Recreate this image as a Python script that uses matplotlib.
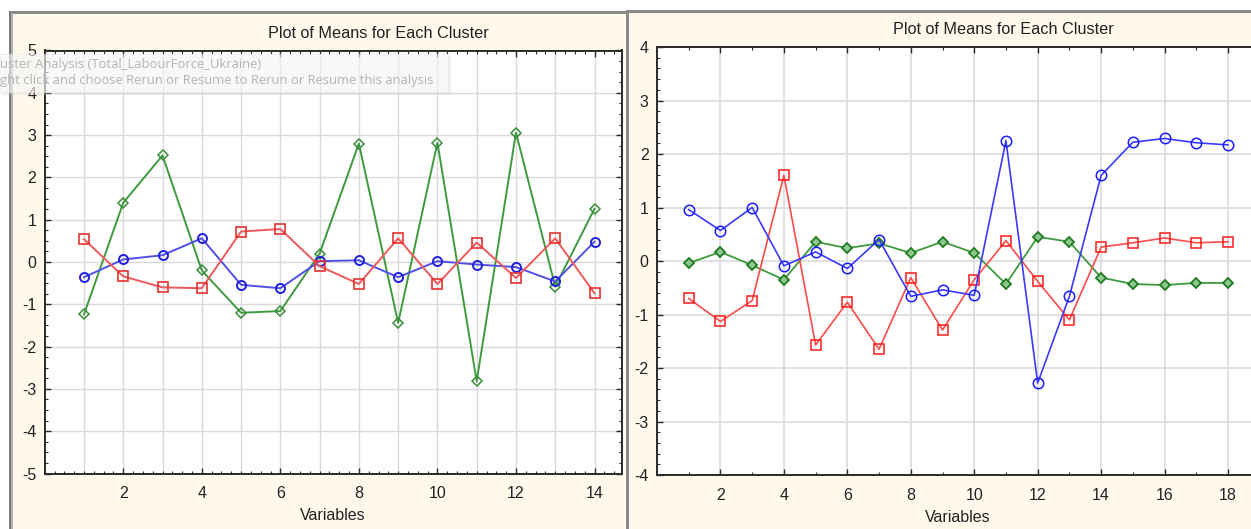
import matplotlib
matplotlib.use("Agg")
import matplotlib.pyplot as plt
from matplotlib.patches import Rectangle
from matplotlib.ticker import MultipleLocator, FixedLocator
import numpy as np

plt.rcParams['font.family'] = ['Liberation Sans', 'DejaVu Sans']
plt.rcParams['axes.unicode_minus'] = False

# ---------------- data ----------------
left_vars = list(range(1, 15))
left_blue = [-0.36, 0.06, 0.16, 0.56, -0.54, -0.62, 0.02, 0.04, -0.36, 0.02, -0.06, -0.12, -0.46, 0.48]
left_red = [0.54, -0.34, -0.60, -0.62, 0.72, 0.78, -0.10, -0.52, 0.56, -0.52, 0.46, -0.38, 0.56, -0.74]
left_green = [-1.24, 1.40, 2.52, -0.20, -1.20, -1.16, 0.20, 2.80, -1.44, 2.82, -2.82, 3.06, -0.58, 1.26]
left_xticks = [2, 4, 6, 8, 10, 12, 14]

right_vars = list(range(1, 19))
right_blue = [0.96, 0.57, 1.00, -0.09, 0.17, -0.14, 0.40, -0.66, -0.54, -0.64, 2.25, -2.28, -0.66,
              1.60, 2.22, 2.29, 2.21, 2.17]
right_red = [-0.70, -1.13, -0.74, 1.60, -1.57, -0.77, -1.65, -0.31, -1.29, -0.35, 0.38, -0.38, -1.10,
             0.26, 0.34, 0.43, 0.34, 0.36]
right_green = [-0.04, 0.17, -0.08, -0.35, 0.36, 0.24, 0.33, 0.15, 0.36, 0.15, -0.43, 0.45, 0.36,
               -0.31, -0.43, -0.45, -0.41, -0.41]
right_xticks = [2, 4, 6, 8, 10, 12, 14, 16, 18]

title_text = "Plot of Means for Each Cluster"
xlabel_text = "Variables"
overlay_lines = ["uster Analysis (Total_LabourForce_Ukraine)",
                 "ght click and choose Rerun or Resume to Rerun or Resume this analysis"]

# ---------------- figure ----------------
W, H = 1251, 529
fig = plt.figure(figsize=(W / 100, H / 100), dpi=100)
fig.patch.set_facecolor('white')

def px_rect(x0, y0, x1, y1, zorder=-10, **kw):
    fig.patches.append(Rectangle((x0 / W, 1 - y1 / H), (x1 - x0) / W, (y1 - y0) / H,
                                 transform=fig.transFigure, figure=fig, zorder=zorder, **kw))

cream = '#FFF9EC'
# left panel
px_rect(9, 11, 627, 529, facecolor=cream, edgecolor='none')
px_rect(9, 11, 627, 13.5, facecolor='#8A8A8A', edgecolor='none')
px_rect(8.5, 11, 10.5, 529, facecolor='#7A7A7A', edgecolor='none')
px_rect(10.5, 13, 12.5, 529, facecolor='#B0B0B0', edgecolor='none')
# right panel
px_rect(627, 10, 1251, 529, facecolor=cream, edgecolor='none')
px_rect(627, 10, 1251, 12.5, facecolor='#8A8A8A', edgecolor='none')
px_rect(626, 10, 629, 529, facecolor='#8A8A8A', edgecolor='none')


def px_axes(x0, y0, x1, y1):
    return fig.add_axes([x0 / W, 1 - y1 / H, (x1 - x0) / W, (y1 - y0) / H])


def style_axes(ax):
    ax.set_facecolor('white')
    for s in ax.spines.values():
        s.set_color('#2A2A2A')
        s.set_linewidth(1.4)
    ax.tick_params(which='both', direction='in', top=True, right=True, colors='#2A2A2A',
                   labelcolor='#222222', labelsize=11.5)
    ax.tick_params(which='major', length=4, width=1)
    ax.tick_params(which='minor', length=2, width=0.8)
    ax.tick_params(axis='x', pad=9)
    ax.tick_params(axis='y', pad=6)


# ---------------- left chart ----------------
axL = px_axes(44.7, 50.5, 622, 473.5)
style_axes(axL)
axL.set_xlim(0, 14.7)
axL.set_ylim(-5, 5)
axL.set_xticks(left_xticks)
axL.xaxis.set_minor_locator(MultipleLocator(0.25))
axL.yaxis.set_major_locator(MultipleLocator(1))
axL.yaxis.set_minor_locator(MultipleLocator(0.25))
for v in range(1, 15):
    axL.axvline(v, color='#D9D9D9', lw=1.0, zorder=0)
for v in range(-4, 5):
    axL.axhline(v, color='#D9D9D9', lw=1.0, zorder=0)

lw = 1.4
axL.plot(left_vars, left_blue, color='#5050E8', lw=lw, marker='o', ms=6.5, mfc='none',
         mec='#2020E0', mew=1.4, zorder=3)
axL.plot(left_vars, left_red, color='#EE5A5A', lw=lw, marker='s', ms=6.5, mfc='none',
         mec='#E83030', mew=1.2, zorder=4)
axL.plot(left_vars, left_green, color='#3F9A3F', lw=lw, marker='D', ms=5.5, mfc='none',
         mec='#3A8F3A', mew=1.1, zorder=2)

fig.text(378 / W, 1 - 33 / H, title_text, ha='center', va='center', fontsize=11.7, color='#222222')
fig.text(333 / W, 1 - 516 / H, xlabel_text, ha='center', va='center', fontsize=11.5, color='#222222')

# overlay tooltip (semi-transparent box over the left chart)
px_rect(2, 56, 451, 95, zorder=19, facecolor='#C8C8C8', edgecolor='none', alpha=0.25)
px_rect(0, 54, 448, 92, zorder=20, facecolor='white', edgecolor='#E6E6E6', alpha=0.55, lw=1)
fig.text(0 / W, 1 - 64.5 / H, overlay_lines[0], ha='left', va='center', fontsize=9.4,
         color='#B4B4B4', family=['Open Sans', 'DejaVu Sans'], zorder=21)
fig.text(0 / W, 1 - 80.5 / H, overlay_lines[1], ha='left', va='center', fontsize=9.4,
         color='#B4B4B4', family=['Open Sans', 'DejaVu Sans'], zorder=21)

# ---------------- right chart ----------------
axR = px_axes(657, 47, 1251, 475)
style_axes(axR)
axR.spines['right'].set_visible(False)
axR.tick_params(which='both', right=False)
axR.set_xlim(0, (1251 - 656.5) / 31.75)
axR.set_ylim(-4, 4)
axR.set_xticks(right_xticks)
axR.xaxis.set_minor_locator(FixedLocator(list(range(1, 19, 2))))
axR.yaxis.set_major_locator(MultipleLocator(1))
axR.yaxis.set_minor_locator(MultipleLocator(0.2))
for v in right_xticks:
    axR.axvline(v, color='#DCDCDC', lw=1.2, zorder=0)
for v in range(-3, 4):
    axR.axhline(v, color='#DCDCDC', lw=1.2, zorder=0)

axR.plot(right_vars, right_green, color='#3E9A3E', lw=1.3, marker='D', ms=5, mfc='#8FC88F',
         mec='#1E7A1E', mew=1.3, zorder=2)
axR.plot(right_vars, right_red, color='#FF4A4A', lw=1.2, marker='s', ms=7.5, mfc='none',
         mec='#FF1A1A', mew=1.1, zorder=3)
axR.plot(right_vars, right_blue, color='#3A3AFF', lw=1.2, marker='o', ms=7.5, mfc='none',
         mec='#1A1AFF', mew=1.1, zorder=4)

fig.text(1003 / W, 1 - 29 / H, title_text, ha='center', va='center', fontsize=11.7, color='#222222')
fig.text(958 / W, 1 - 517 / H, xlabel_text, ha='center', va='center', fontsize=11.5, color='#222222')

fig.savefig('out.png', dpi=100, facecolor=fig.get_facecolor())
